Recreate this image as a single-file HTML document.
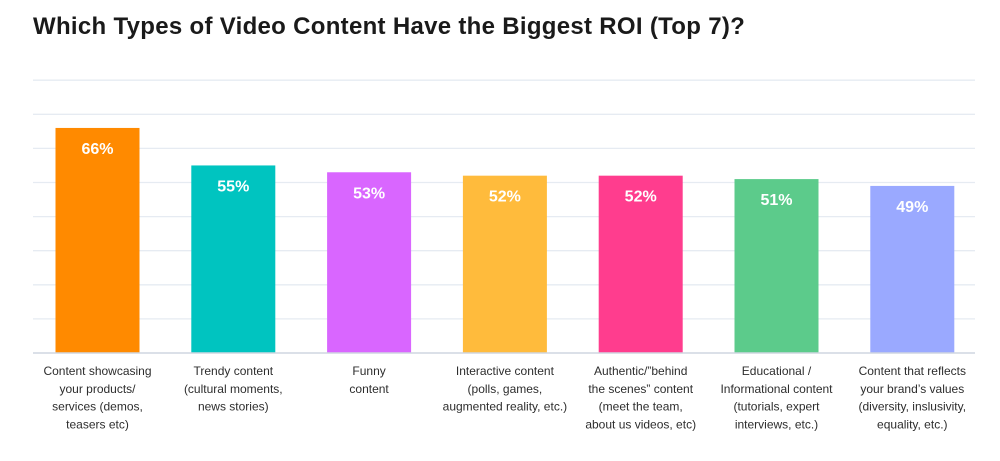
<!DOCTYPE html>
<html><head><meta charset="utf-8"><style>
body{margin:0;background:#fff;width:1000px;height:461px;overflow:hidden;font-family:"Liberation Sans",sans-serif}
h1{position:absolute;left:33px;top:13px;margin:0;font-size:24px;font-weight:bold;color:#1a1a1a;letter-spacing:0.3px}
</style></head><body>
<h1>Which Types of Video Content Have the Biggest ROI (Top 7)?</h1>
<svg id="c" width="1000" height="461" style="position:absolute;left:0;top:0"></svg>
<script>
const categories=[["Content showcasing","your products/","services (demos,","teasers etc)"],["Trendy content","(cultural moments,","news stories)"],["Funny","content"],["Interactive content","(polls, games,","augmented reality, etc.)"],["Authentic/\u201dbehind","the scenes\u201d content","(meet the team,","about us videos, etc)"],["Educational /","Informational content","(tutorials, expert","interviews, etc.)"],["Content that reflects","your brand\u2019s values","(diversity, inslusivity,","equality, etc.)"]];
const values=[66,55,53,52,52,51,49];
const valueLabels=["66%","55%","53%","52%","52%","51%","49%"];
const colors=["#ff8a00","#00c4c0","#d966ff","#ffbb3c","#ff3d8e","#5ccb8b","#9aa9ff"];
const gridValues=[10,20,30,40,50,60,70,80];
const svg=document.getElementById('c');const NS="http://www.w3.org/2000/svg";
const y0=353,scale=34.1/10;
const y=v=>y0-v*scale;
const x=i=>97.5+i*135.8;
function mk(t,a){const e=document.createElementNS(NS,t);for(const k in a)e.setAttribute(k,a[k]);svg.appendChild(e);return e;}
gridValues.forEach(g=>{const l=mk('line',{x1:33,x2:975,y1:y(g),y2:y(g),stroke:'#e6ebf2','stroke-width':1.3});

});
values.forEach((v,i)=>{
const r=mk('rect',{x:x(i)-42,y:y(v),width:84,height:v*scale,fill:colors[i]});


const t=mk('text',{x:x(i),y:y(v)+26,'text-anchor':'middle','font-size':16,'font-weight':'bold',fill:'#fff'});
t.textContent=valueLabels[i];


categories[i].forEach((s,j)=>{const c=mk('text',{x:x(i),y:375+j*17.8,'text-anchor':'middle','font-size':12,fill:'#2d2d2d'});c.textContent=s;

});
});
const b=mk('line',{x1:33,x2:975,y1:y0,y2:y0,stroke:'#cfd6e0','stroke-width':1.5});


</script>
</body></html>
